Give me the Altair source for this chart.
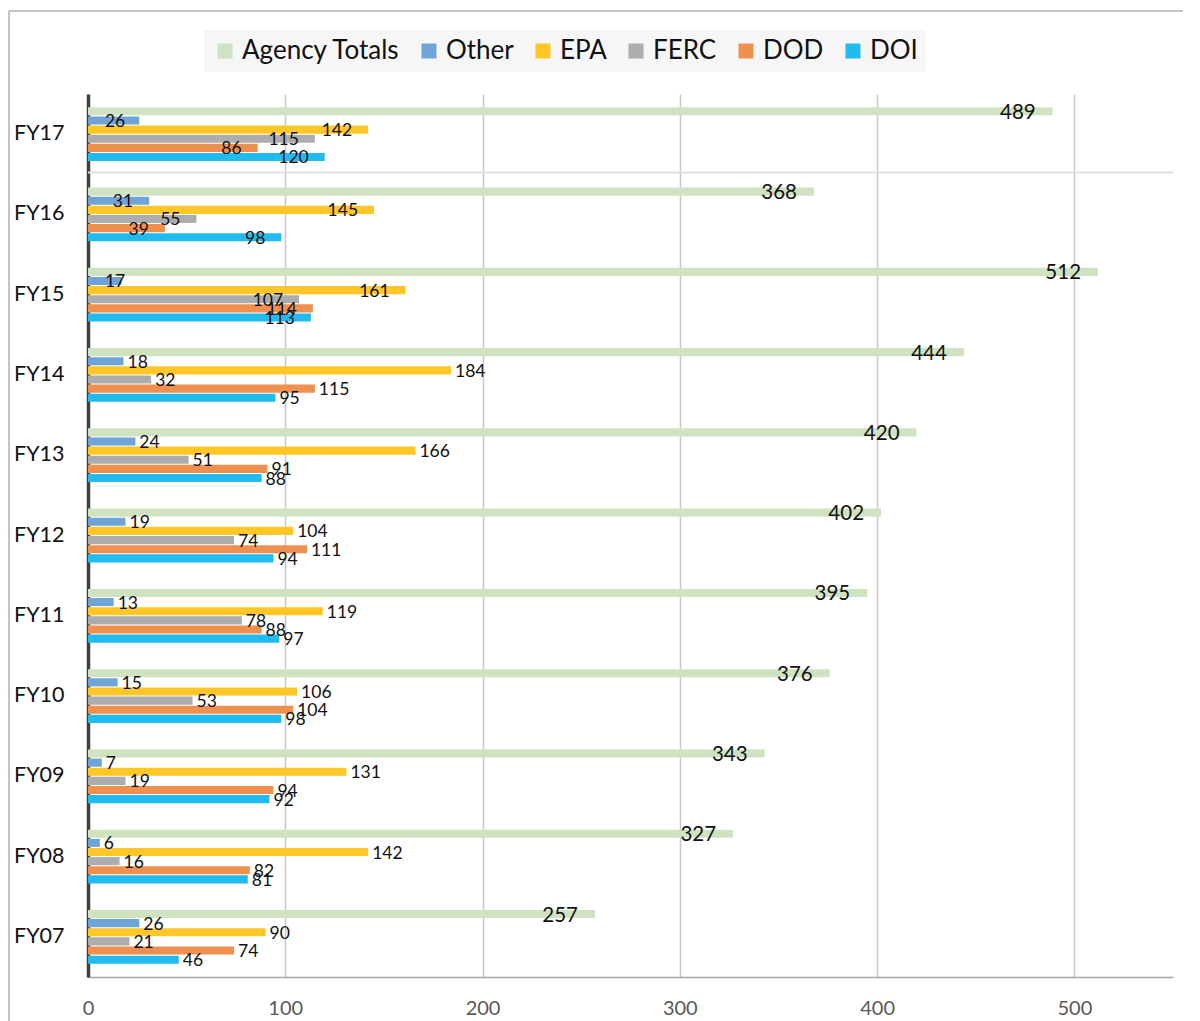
import altair as alt
import pandas as pd

years = ["FY17", "FY16", "FY15", "FY14", "FY13", "FY12", "FY11", "FY10", "FY09", "FY08", "FY07"]
series_order = ["Agency Totals", "Other", "EPA", "FERC", "DOD", "DOI"]
agency_totals = [489, 368, 512, 444, 420, 402, 395, 376, 343, 327, 257]
other = [26, 31, 17, 18, 24, 19, 13, 15, 7, 6, 26]
epa = [142, 145, 161, 184, 166, 104, 119, 106, 131, 142, 90]
ferc = [115, 55, 107, 32, 51, 74, 78, 53, 19, 16, 21]
dod = [86, 39, 114, 115, 91, 111, 88, 104, 94, 82, 74]
doi = [120, 98, 113, 95, 88, 94, 97, 98, 92, 81, 46]
colors = ["#cfe3c1", "#6fa4d9", "#ffc627", "#adadad", "#f0904f", "#22bbf0"]
x_ticks = [0, 100, 200, 300, 400, 500]
right_label_years = ["FY17", "FY16", "FY15"]

series_values = [agency_totals, other, epa, ferc, dod, doi]
rows = []
for name, vals in zip(series_order, series_values):
    for yr, v in zip(years, vals):
        rows.append({"year": yr, "series": name, "value": v})
df = pd.DataFrame(rows)

W, H = 1085, 883
PAD = {"left": 80, "top": 86, "right": 10, "bottom": 44}
FONT = "Lato"

y_enc = alt.Y("year:N", sort=years, scale=alt.Scale(paddingInner=0.33, paddingOuter=0.165),
              axis=alt.Axis(title=None, domainColor="#404040", domainWidth=3.5, ticks=False,
                            labelFont=FONT, labelFontSize=21.5, labelColor="#111111",
                            labelPadding=24, grid=False))
yoff = alt.YOffset("series:N", sort=series_order, scale=alt.Scale(paddingInner=0.11, paddingOuter=0))
x_enc = alt.X("value:Q", scale=alt.Scale(domain=[0, 550], nice=False),
              axis=alt.Axis(title=None, values=x_ticks, grid=True, gridColor="#c8c8c8", gridWidth=1.5,
                            domainColor="#a6a6a6", domainWidth=1.5, ticks=False, labelFlush=False,
                            labelFont=FONT, labelFontSize=20, labelColor="#595959", labelPadding=21))

base = alt.Chart(df)

bars = base.mark_bar(cornerRadius=0).encode(
    y=y_enc, yOffset=yoff, x=x_enc,
    color=alt.Color("series:N", sort=series_order,
                    scale=alt.Scale(domain=series_order, range=colors),
                    legend=alt.Legend(title=None, orient="none", direction="horizontal",
                                      legendX=116, legendY=-64, symbolType="square",
                                      symbolSize=225, symbolStrokeWidth=0,
                                      labelFont=FONT, labelFontSize=26, labelColor="#111111",
                                      labelOffset=4, columnPadding=16, padding=8,
                                      fillColor="#f6f6f6")),
)

year_list_expr = "[" + ",".join("'%s'" % y for y in right_label_years) + "]"
is_right = "indexof(%s, datum.year) >= 0" % year_list_expr

total_labels = base.transform_filter("datum.series == 'Agency Totals'").mark_text(
    align="right", baseline="middle", dx=-17, dy=1.5, font=FONT, fontSize=20.5, color="#111111"
).encode(y=alt.Y("year:N", sort=years), yOffset=yoff, x="value:Q", text="value:Q")

# labels kept inside the plot area (as the source chart does)
sub_right = base.transform_filter(
    "datum.series != 'Agency Totals' && " + is_right
).transform_calculate(lx="max(datum.value, 27)").mark_text(
    align="right", baseline="middle", dx=-16, dy=1.5, font=FONT, fontSize=17.5, color="#111111"
).encode(y=alt.Y("year:N", sort=years), yOffset=yoff, x="lx:Q", text="value:Q")

sub_left = base.transform_filter(
    "datum.series != 'Agency Totals' && !(" + is_right + ")"
).mark_text(
    align="left", baseline="middle", dx=4, dy=1.5, font=FONT, fontSize=17.5, color="#111111"
).encode(y=alt.Y("year:N", sort=years), yOffset=yoff, x="value:Q", text="value:Q")

hline = alt.Chart(pd.DataFrame({"year": ["FY16"]})).mark_rule(color="#e0e0e0", strokeWidth=2).encode(
    y=alt.Y("year:N", sort=years), yOffset=alt.value(-15),
    x=alt.value(0), x2=alt.value(W))

border_top = alt.Chart(pd.DataFrame({"a": [0]})).mark_rule(color="#c4c4c4", strokeWidth=2).encode(
    x=alt.value(-PAD["left"] + 1), x2=alt.value(W + PAD["right"]), y=alt.value(-PAD["top"] + 3))
border_left = alt.Chart(pd.DataFrame({"a": [0]})).mark_rule(color="#c4c4c4", strokeWidth=2).encode(
    x=alt.value(-PAD["left"] + 1), y=alt.value(-PAD["top"] + 3), y2=alt.value(H + PAD["bottom"]))

chart = alt.layer(hline, bars, total_labels, sub_right, sub_left, border_top, border_left).properties(
    width=W, height=H, padding=PAD, autosize="none", background="white"
).configure_view(stroke=None)

chart.save("out.html", embed_options={"renderer": "svg", "actions": False})
